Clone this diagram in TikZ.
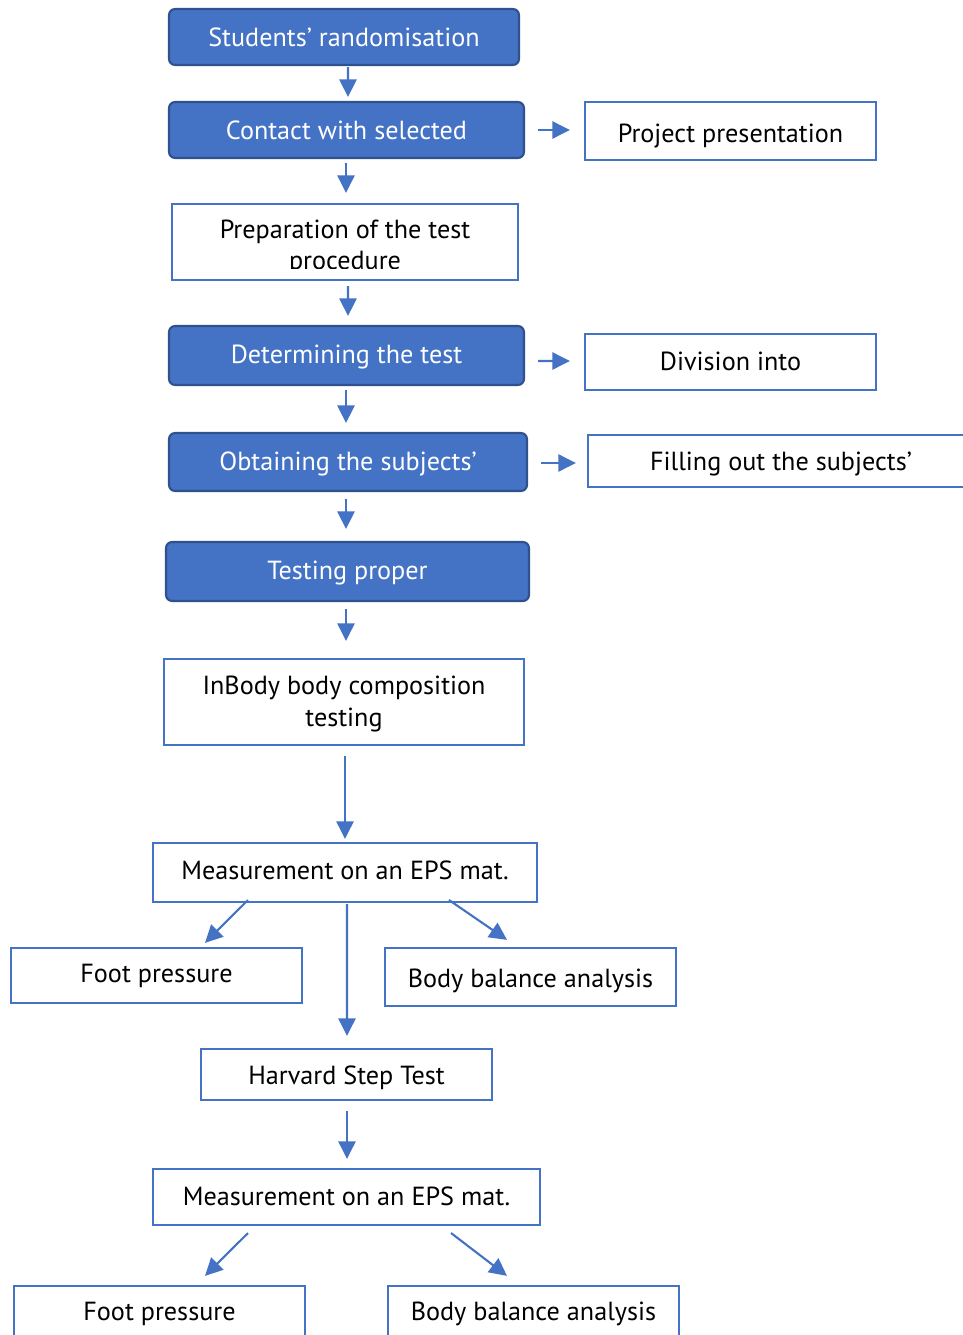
\documentclass[tikz,border=0pt]{standalone}
\usepackage{fontspec}
\setmainfont{PT Sans}
\usetikzlibrary{arrows.meta,calc}
\definecolor{mblue}{HTML}{4472C4}
\definecolor{dblue}{HTML}{2F528F}
% move the ink by #1 px (positive = up) while keeping the box dimensions
\newcommand{\shiftpx}[2]{\raisebox{#1\dimexpr 0.567pt\relax}[\height][\depth]{#2}}
\begin{document}
\begin{tikzpicture}[x=0.02cm,y=-0.02cm,
  fillbox/.style={draw=dblue,fill=mblue,line width=1.2pt,rounded corners=3.5pt,text=white,
    inner sep=0pt,align=center,font=\fontsize{14.9pt}{18pt}\selectfont},
  plainbox/.style={draw=mblue,fill=white,line width=1.3pt,text=black,
    inner sep=0pt,align=center,font=\fontsize{14.9pt}{18pt}\selectfont},
  arr/.style={draw=mblue,line width=1.2pt,-{Triangle[length=10pt,width=9.8pt]}},
  wh/.style 2 args={minimum width=#1*0.02cm,minimum height=#2*0.02cm}]
\useasboundingbox (0,0) rectangle (963,1335);
\clip (0,0) rectangle (963,1335);
\fill[white] (0,0) rectangle (963,1335);
% boxes
\node[fillbox,wh={350}{56}] (rand) at (344,37) {Students’ randomisation};
\node[fillbox,wh={355}{56}] (contact) at (346.5,130) {Contact with selected};
\node[plainbox,wh={291}{58}] (proj) at (730.5,131) {\shiftpx{-5}{Project presentation}};
\node[plainbox,wh={346}{76}] (prep) at (345,242) {};
\begin{scope}
\clip (172,204) rectangle (518,268);
\node[text=black,inner sep=0pt,align=center,font=\fontsize{14.9pt}{17.6pt}\selectfont] (preptext) at (345,247) {Preparation of the test\\procedure};
\end{scope}
\node[fillbox,wh={355}{59}] (det) at (346.5,355.5) {\shiftpx{-2}{Determining the test}};
\node[plainbox,wh={291}{56}] (div) at (730.5,362) {\shiftpx{1}{Division into}};
\node[fillbox,wh={358}{58}] (obt) at (348,462) {\shiftpx{-2}{Obtaining the subjects’}};
\node[plainbox,wh={386}{52}] (fill) at (781,461) {\shiftpx{-3}{Filling out the subjects’}};
\node[fillbox,wh={363}{59}] (testing) at (347.5,571.5) {\shiftpx{-2}{Testing proper}};
\node[plainbox,wh={360}{86}] (inbody) at (344,702) {\shiftpx{-2}{\begin{tabular}{@{}c@{}}InBody body composition\\testing\end{tabular}}};
\node[plainbox,wh={384}{59}] (meas1) at (345,872.5) {\shiftpx{2}{Measurement on an EPS mat.}};
\node[plainbox,wh={291}{55}] (foot1) at (156.5,975.5) {Foot pressure};
\node[plainbox,wh={291}{58}] (bal1) at (530.5,977) {\shiftpx{-4}{Body balance analysis}};
\node[plainbox,wh={291}{51}] (harv) at (346.5,1074.5) {\shiftpx{-3}{Harvard Step Test}};
\node[plainbox,wh={387}{56}] (meas2) at (346.5,1197) {\shiftpx{1}{Measurement on an EPS mat.}};
\node[plainbox,wh={291}{56}] (foot2) at (159.5,1314) {Foot pressure};
\node[plainbox,wh={291}{56}] (bal2) at (533.5,1314) {Body balance analysis};
% vertical arrows
\draw[arr] ($(rand.south)+(4,1)$) -- ($(contact.north)+(1.5,-4)$);
\draw[arr] ($(contact.south)+(-0.5,4)$) -- ($(prep.north)+(1,-10)$);
\draw[arr] ($(prep.south)+(3,5)$) -- ($(det.north)+(1.5,-9)$);
\draw[arr] ($(det.south)+(-0.5,4)$) -- ($(obt.north)+(-2,-9)$);
\draw[arr] ($(obt.south)+(-2,7)$) -- ($(testing.north)+(-1.5,-12)$);
\draw[arr] ($(testing.south)+(-1.5,7)$) -- ($(inbody.north)+(2,-17)$);
\draw[arr] ($(inbody.south)+(1,10)$) -- ($(meas1.north)+(0,-3)$);
\draw[arr] ($(meas1.south)+(2,1)$) -- ($(harv.north)+(0.5,-12)$);
\draw[arr] ($(harv.south)+(0.5,10)$) -- ($(meas2.north)+(0.5,-9)$);
% horizontal arrows
\draw[arr] ($(contact.east)+(13,0)$) -- ($(proj.west)+(-14,-1)$);
\draw[arr] ($(det.east)+(13,5.5)$) -- ($(div.west)+(-14,-1)$);
\draw[arr] ($(obt.east)+(13,1)$) -- ($(fill.west)+(-11,2)$);
% diagonal arrows
\coordinate (m1l) at (248,900);
\coordinate (m1r) at (449,900);
\coordinate (m2l) at (248,1233);
\coordinate (m2r) at (451,1233);
\draw[arr] (m1l) -- ($(foot1.north)+(48.5,-4)$);
\draw[arr] (m1r) -- ($(bal1.north)+(-23.5,-7)$);
\draw[arr] (m2l) -- ($(foot2.north)+(45.5,-9)$);
\draw[arr] (m2r) -- ($(bal2.north)+(-26.5,-9)$);
\end{tikzpicture}
\end{document}
